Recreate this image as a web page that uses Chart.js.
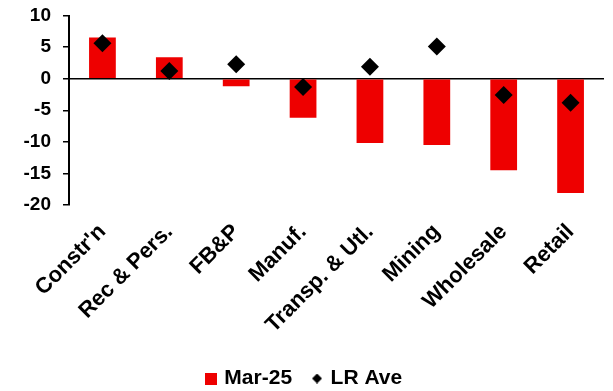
<!DOCTYPE html>
<html>
<head>
<meta charset="utf-8">
<script src="https://cdn.jsdelivr.net/npm/chart.js@4.4.1/dist/chart.umd.min.js"></script>
<style>
  body { margin: 0; background: #fff; }
  #wrap { width: 613px; height: 391px; }
</style>
</head>
<body>
<div id="wrap"><canvas id="myChart" width="613" height="391"></canvas></div>
<script>
const categories = ["Constr'n", "Rec & Pers.", "FB&P", "Manuf.", "Transp. & Utl.", "Mining", "Wholesale", "Retail"];
const mar25 = [6.5, 3.4, -1.2, -6.2, -10.2, -10.5, -14.5, -18.1];
const lrAve = [5.6, 1.2, 2.3, -1.3, 1.9, 5.1, -2.6, -3.8];
const yMin = -20;
const yMax = 10;
const yStep = 5;

const RED = "#ee0000";
const FONT = "'Liberation Sans', Arial, sans-serif";

// small legend symbols (square for bars, diamond for the average)
function legendSquare(size, color) {
  const c = document.createElement("canvas");
  c.width = size;
  c.height = size;
  const g = c.getContext("2d");
  g.fillStyle = color;
  g.fillRect(0, 0, size, size);
  return c;
}
function legendDiamond(size, color) {
  const c = document.createElement("canvas");
  c.width = size;
  c.height = size;
  const g = c.getContext("2d");
  const h = size / 2;
  g.fillStyle = color;
  g.beginPath();
  g.moveTo(h, 0);
  g.lineTo(size, h);
  g.lineTo(h, size);
  g.lineTo(0, h);
  g.closePath();
  g.fill();
  return c;
}
const legendIcons = [legendSquare(12, RED), legendDiamond(10, "#000")];

const ctx = document.getElementById("myChart").getContext("2d");
const myChart = new Chart(ctx, {
  type: "bar",
  data: {
    labels: categories,
    datasets: [
      {
        label: "Mar-25",
        data: mar25,
        backgroundColor: RED,
        borderWidth: 0,
        barPercentage: 0.4,
        categoryPercentage: 1,
        order: 1,
      },
      {
        type: "line",
        label: "LR Ave",
        data: lrAve,
        showLine: false,
        pointStyle: "rectRot",
        pointRadius: 9,
        pointHoverRadius: 9,
        pointBackgroundColor: "#000",
        pointBorderColor: "#000",
        pointBorderWidth: 0,
        backgroundColor: "#000",
        borderColor: "#000",
        order: 0,
      },
    ],
  },
  options: {
    responsive: false,
    animation: false,
    layout: {
      padding: { top: 15.5, right: 3, left: 0, bottom: -8 },
    },
    plugins: {
      tooltip: { enabled: false },
      legend: {
        position: "bottom",
        labels: {
          usePointStyle: true,
          boxWidth: 6,
          boxHeight: 12,
          padding: 22,
          color: "#000",
          font: { family: FONT, size: 21, weight: "bold" },
          sort: (a, b) => a.datasetIndex - b.datasetIndex,
          generateLabels: (chart) => {
            const items = Chart.defaults.plugins.legend.labels.generateLabels(chart);
            items.forEach((it) => {
              it.pointStyle = legendIcons[it.datasetIndex];
            });
            return items;
          },
        },
      },
    },
    scales: {
      x: {
        grid: { display: false, drawTicks: false },
        border: { display: false },
        ticks: {
          color: "#000",
          font: { family: FONT, size: 22, weight: "bold" },
          minRotation: 45,
          maxRotation: 45,
          autoSkip: false,
          padding: 14,
        },
        afterFit: (scale) => {
          scale.height = 141;
          scale.paddingLeft = 0;
          scale.paddingRight = 0;
        },
      },
      y: {
        min: yMin,
        max: yMax,
        ticks: {
          stepSize: yStep,
          color: "#000",
          padding: 12,
          font: { family: FONT, size: 19, weight: "bold" },
        },
        grid: {
          color: (c) => (c.tick && c.tick.value === 0 ? "#000" : "rgba(0,0,0,0)"),
          lineWidth: 1.5,
          tickColor: "#000",
          tickWidth: 1.5,
          tickLength: 6,
        },
        border: { display: true, color: "#000", width: 2 },
        afterFit: (scale) => {
          scale.width = 69;
          scale.paddingTop = 0;
          scale.paddingBottom = 0;
        },
      },
    },
  },
});
</script>
</body>
</html>
